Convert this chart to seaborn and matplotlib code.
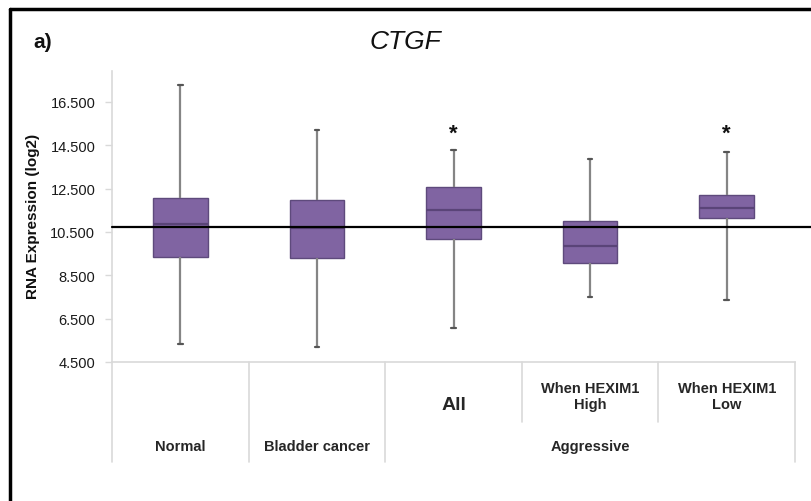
import numpy as np
import pandas as pd
import matplotlib
matplotlib.use("Agg")
import matplotlib.pyplot as plt
import matplotlib.transforms as mtransforms
from matplotlib.lines import Line2D
import seaborn as sns

# Five-number summaries of CTGF expression per group
groups = ["Normal", "Bladder cancer", "All", "When HEXIM1\nHigh", "When HEXIM1\nLow"]
whisker_low = [5.34, 5.17, 6.06, 7.49, 7.38]
q1 = [9.33, 9.30, 10.18, 9.07, 11.15]
median = [10.86, 10.70, 11.51, 9.87, 11.59]
q3 = [12.07, 11.97, 12.56, 10.99, 12.20]
whisker_high = [17.29, 15.21, 14.28, 13.88, 14.17]

significant = [False, False, True, False, True]
reference_level = 10.72

yticks = [4.5, 6.5, 8.5, 10.5, 12.5, 14.5, 16.5]
ytick_labels = ["4.500", "6.500", "8.500", "10.500", "12.500", "14.500", "16.500"]

# Long table: five points per group reproduce the summary exactly
rows = []
for g, lo, a, m, b, hi in zip(groups, whisker_low, q1, median, q3, whisker_high):
    for v in (lo, a, m, b, hi):
        rows.append({"group": g, "value": v})
df = pd.DataFrame(rows)

sns.set_theme(style="white")
plt.rcParams["font.family"] = ["Liberation Sans", "DejaVu Sans"]

fig = plt.figure(figsize=(8.11, 5.02), dpi=100)
W, H = 811, 502
ax_left, ax_right, ax_top, ax_bottom = 112, 795, 72, 363
ax = fig.add_axes([ax_left / W, 1 - ax_bottom / H,
                   (ax_right - ax_left) / W, (ax_bottom - ax_top) / H])

fill = "#8064A2"
edge = "#5E4A7C"
gray = "#858585"
grid_gray = "#D9D9D9"

sns.boxplot(data=df, x="group", y="value", order=groups, color=fill,
            saturation=1, width=0.4, whis=(0, 100), linewidth=1,
            linecolor=edge, ax=ax, capwidths=0.035,
            whiskerprops=dict(color=gray, linewidth=1.6),
            capprops=dict(color="#555555", linewidth=1.6),
            medianprops=dict(color="#5A4478", linewidth=1.6),
            boxprops=dict(edgecolor=edge, linewidth=1))

ax.set_xlim(-0.5, len(groups) - 0.5)
ax.set_ylim(4.5, 17.92)
ax.set_yticks(yticks)
ax.set_yticklabels(ytick_labels, fontsize=10.5, color="#1a1a1a")
ax.set_xticks([])
ax.set_xlabel("")
ax.set_ylabel("")
ax.tick_params(axis="y", which="both", left=True, length=5, width=1,
               color=grid_gray, pad=7)
for side in ("top", "right"):
    ax.spines[side].set_visible(False)
for side in ("left", "bottom"):
    ax.spines[side].set_color(grid_gray)
    ax.spines[side].set_linewidth(1.2)

# Reference line across the plot, running past the right edge
ax.axhline(reference_level, xmin=0, xmax=(W - ax_left) / (ax_right - ax_left),
           color="black", linewidth=1.6, clip_on=False, zorder=5)

# Significance stars
for i, sig in enumerate(significant):
    if sig:
        ax.text(i, 15.05, "*", ha="center", va="center", fontsize=16,
                fontweight="bold", color="#111111")

# Category table under the axis
trans = mtransforms.blended_transform_factory(ax.transData, ax.transAxes)
ax_h = ax_bottom - ax_top
def ay(py):
    return -(py - ax_bottom) / ax_h

full_low = ay(463)
inner_low = ay(423)
for xb, low in [(-0.5, full_low), (0.5, full_low), (1.5, full_low),
                (2.5, inner_low), (3.5, inner_low), (4.5, full_low)]:
    ax.plot([xb, xb], [0, low], transform=trans, color=grid_gray,
            linewidth=1.2, clip_on=False)

ax.text(0, ay(447), groups[0], transform=trans, ha="center", va="center",
        fontsize=10.5, fontweight="bold")
ax.text(1, ay(447), groups[1], transform=trans, ha="center", va="center",
        fontsize=10.5, fontweight="bold")
ax.text(2, ay(406), groups[2], transform=trans, ha="center", va="center",
        fontsize=14, fontweight="bold")
ax.text(3, ay(397), groups[3], transform=trans, ha="center", va="center",
        fontsize=10.5, fontweight="bold", linespacing=1.1)
ax.text(4, ay(397), groups[4], transform=trans, ha="center", va="center",
        fontsize=10.5, fontweight="bold", linespacing=1.1)
ax.text(3, ay(447), "Aggressive", transform=trans, ha="center", va="center",
        fontsize=10.5, fontweight="bold")

# Titles and axis label
fig.text(405 / W, 1 - 42 / H, "CTGF", ha="center", va="center",
         fontsize=19, fontstyle="italic", color="#111111")
fig.text(43 / W, 1 - 43 / H, "a)", ha="center", va="center",
         fontsize=15, fontweight="bold", color="#111111")
fig.text(33 / W, 1 - 216 / H, "RNA Expression (log2)", rotation=90,
         ha="center", va="center", fontsize=11, fontweight="bold",
         color="#111111")

# Frame lines along the top and left
fig.add_artist(Line2D([10 / W, 1.0], [1 - 10 / H, 1 - 10 / H],
                      transform=fig.transFigure, color="black", linewidth=2.5))
fig.add_artist(Line2D([10 / W, 10 / W], [0, 1 - 10 / H],
                      transform=fig.transFigure, color="black", linewidth=2.5))

fig.savefig("out.png", dpi=100)
